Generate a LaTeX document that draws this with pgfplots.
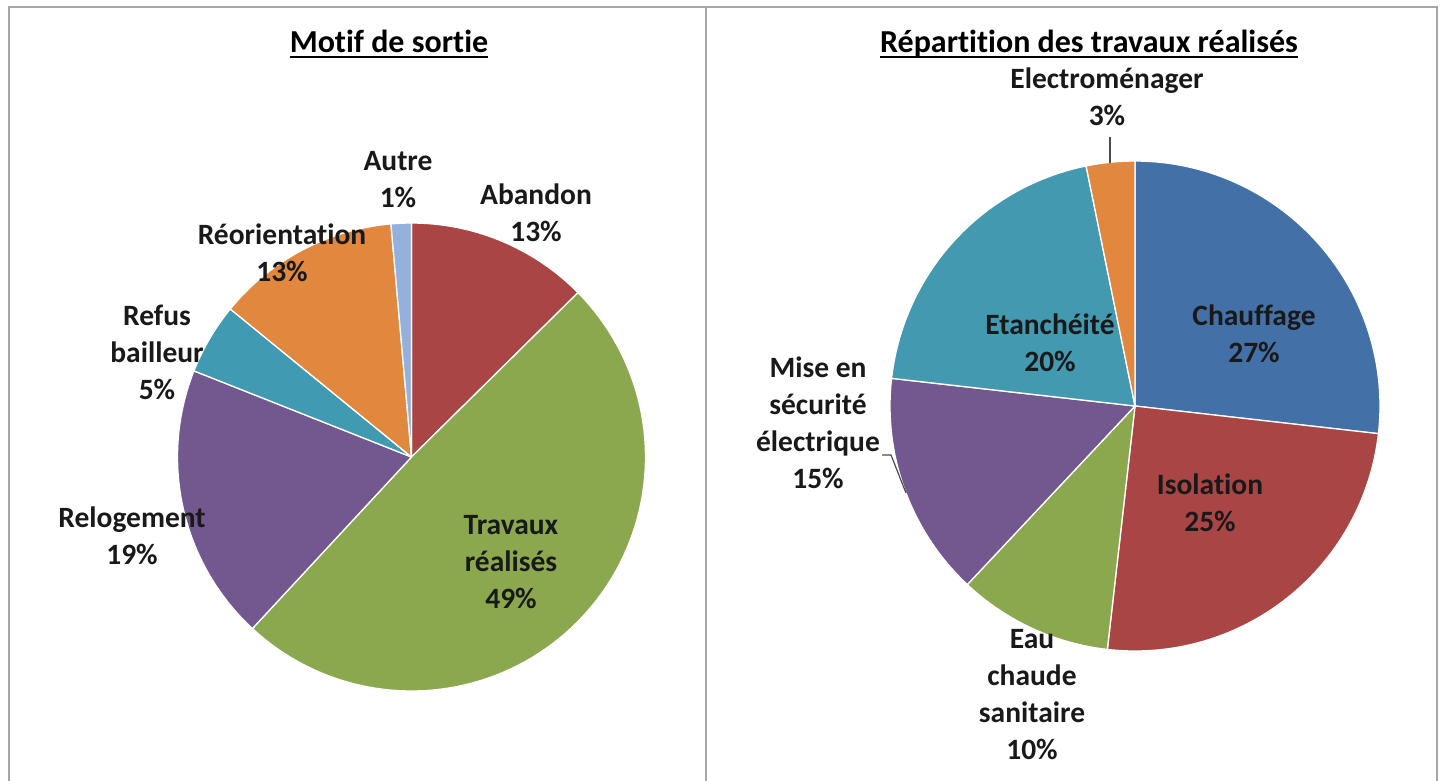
\documentclass[border=0pt]{standalone}
\usepackage{pgfplots}
\pgfplotsset{compat=1.18}
\usepackage{pgfplotstable}
\usepackage{fontspec}
\setmainfont{Carlito}[Ligatures={NoCommon,NoContextual,NoRequired}]

\definecolor{tableline}{HTML}{A6A6A6}
% left pie colours (clockwise from top)
\definecolor{L0}{HTML}{A94544}% Abandon
\definecolor{L1}{HTML}{8CA84F}% Travaux realises
\definecolor{L2}{HTML}{73578F}% Relogement
\definecolor{L3}{HTML}{3F9AB2}% Refus bailleur
\definecolor{L4}{HTML}{E2883E}% Reorientation
\definecolor{L5}{HTML}{95B0DC}% Autre
% right pie colours (clockwise from top)
\definecolor{R0}{HTML}{4470A8}% Chauffage
\definecolor{R1}{HTML}{A94544}% Isolation
\definecolor{R2}{HTML}{8CA84F}% Eau chaude sanitaire
\definecolor{R3}{HTML}{73578F}% Mise en securite electrique
\definecolor{R4}{HTML}{4299B0}% Etancheite
\definecolor{R5}{HTML}{E2883E}% Electromenager

% Motif de sortie (%), clockwise from 12 o'clock
\pgfplotstableread{
value
12.6
49.3
19.1
4.9
12.7
1.4
}\motif
% Repartition des travaux realises (%), clockwise from 12 o'clock
\pgfplotstableread{
value
26.8
25.0
10.2
14.8
20.0
3.2
}\travaux

\newcommand{\drawpie}[3]{%
  \def\cum{0}%
  \pgfplotstablegetrowsof{#1}%
  \pgfmathtruncatemacro\nlast{\pgfplotsretval-1}%
  \pgfplotsforeachungrouped \i in {0,...,\nlast}{%
    \pgfplotstablegetelem{\i}{value}\of{#1}%
    \let\val\pgfplotsretval
    \pgfmathsetmacro\angA{90-3.6*(\cum+\val)}%
    \pgfmathsetmacro\angB{90-3.6*\cum}%
    \pgfmathsetmacro\cum{\cum+\val}%
    \edef\doslice{\noexpand\addplot[fill=#3\i, draw=white, line width=1.3pt, line join=round, data cs=polar, domain=\angA:\angB, samples=90] {#2} -- (axis cs:0,0) -- cycle;}%
    \doslice
  }%
}

\newcommand\lab{\fontsize{29.5}{37}\selectfont\bfseries}
\newcommand\ttl{\fontsize{32}{38}\selectfont\bfseries}

\begin{document}
\begin{tikzpicture}
\path[use as bounding box] (0,0) rectangle (1445pt,-780pt);
% table frame
\draw[tableline, line width=2pt] (8.5pt,-781pt) -- (8.5pt,-7pt) -- (1437pt,-7pt) -- (1437pt,-781pt);
\draw[tableline, line width=2pt] (706pt,-7pt) -- (706pt,-781pt);

% left pie
\begin{axis}[at={(411.5pt,-457pt)}, anchor=center, x=1pt, y=1pt,
  xmin=-250, xmax=250, ymin=-250, ymax=250, hide axis, clip=false]
  \drawpie{\motif}{234}{L}
\end{axis}

% right pie
\begin{axis}[at={(1135pt,-406pt)}, anchor=center, x=1pt, y=1pt,
  xmin=-260, xmax=260, ymin=-260, ymax=260, hide axis, clip=false]
  \drawpie{\travaux}{245}{R}
\end{axis}

% titles
\node[inner sep=0pt, anchor=base, font=\ttl] (t1) at (389pt,-52pt) {Mot\kern0pt if de sort\kern0pt ie};
\draw[line width=2.5pt] ([yshift=-5pt]t1.base west) -- ([yshift=-5pt]t1.base east);
\node[inner sep=0pt, anchor=base, font=\ttl] (t2) at (1089pt,-52pt) {Répart\kern0pt it\kern0pt ion des travaux réalisés};
\draw[line width=2.5pt] ([yshift=-5pt]t2.base west) -- ([yshift=-5pt]t2.base east);

% left labels
\tikzset{lb/.style={align=center, font=\lab, text=black!90, inner sep=0pt}}
\node[lb] at (398pt,-180pt) {Autre\\1\%};
\node[lb] at (536pt,-213pt) {Abandon\\13\%};
\node[lb] at (282pt,-253pt) {Réorientat\kern0pt ion\\13\%};
\node[lb] at (157pt,-352pt) {Refus\\bailleur\\5\%};
\node[lb] at (132pt,-536pt) {Relogement\\19\%};
\node[lb] at (511pt,-562pt) {Travaux\\réalisés\\49\%};

% right labels
\node[lb] at (1107pt,-97pt) {Electroménager\\3\%};
\draw[black!70, line width=1.2pt] (1110pt,-137pt) -- (1110pt,-163pt);
\node[lb] at (1254pt,-334pt) {Chauffage\\27\%};
\node[lb] at (1050pt,-343pt) {Etanchéité\\20\%};
\node[lb] at (818pt,-423pt) {Mise en\\sécurité\\électrique\\15\%};
\draw[black!70, line width=1.2pt] (882pt,-455pt) -- (891pt,-455pt) -- (906pt,-493pt);
\node[lb] at (1210pt,-503pt) {Isolat\kern0pt ion\\25\%};
\node[lb] at (1032pt,-695pt) {Eau\\chaude\\sanitaire\\10\%};
\end{tikzpicture}
\end{document}
